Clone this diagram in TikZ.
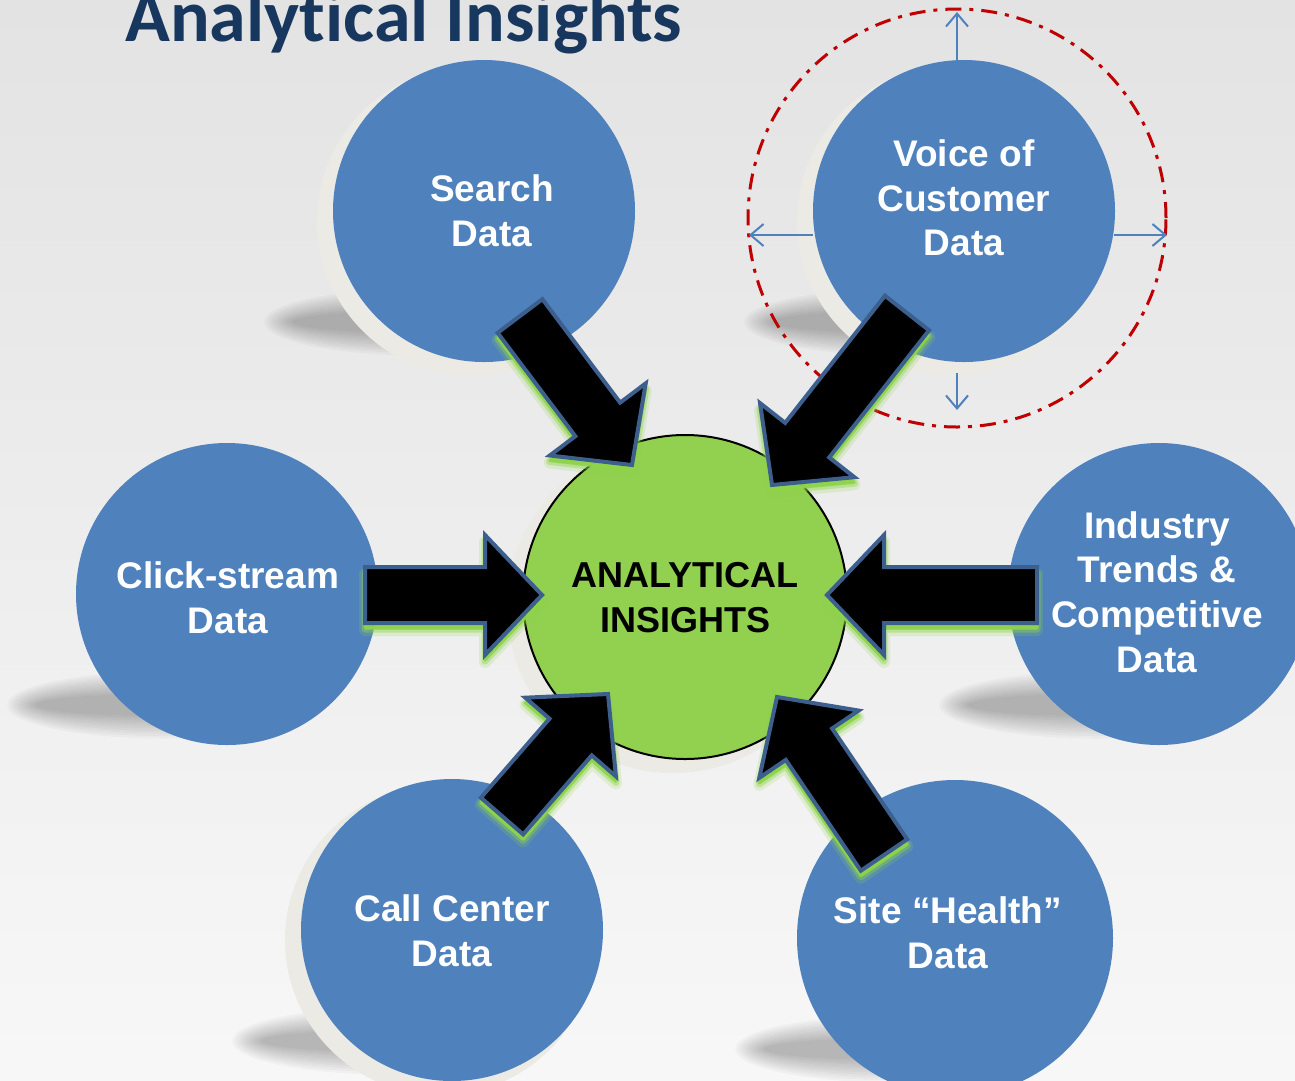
\documentclass[tikz,border=0pt]{standalone}
\usepackage{fontspec}
\setmainfont{Liberation Sans}
\newfontfamily\titlefont{Carlito}[Ligatures=NoCommon]
\usetikzlibrary{calc,arrows.meta}

\definecolor{blobblue}{HTML}{4F81BD}
\definecolor{hubgreen}{HTML}{92D050}
\definecolor{titleblue}{HTML}{17375E}
\definecolor{arrowedge}{HTML}{3D5F8E}
\definecolor{glowgreen}{HTML}{8ED44A}
\definecolor{rimgrey}{HTML}{EBEAE4}
\definecolor{ringred}{HTML}{C00000}

% block arrow from tail #2 to tip #3, moved down by #4, drawn with options #1
\newcommand\blockarrowpath[4]{%
  \path[#1] let \p1=($(#3)-(#2)$), \n1={veclen(\x1,\y1)}, \n2={atan2(\y1,\x1)} in
    [shift={($(#2)+(0,#4)$)}, rotate=\n2]
    (0pt,28pt) -- ({(\n1-57)*1pt},28pt) -- ({(\n1-57)*1pt},60pt) -- ({\n1*1pt},0pt)
    -- ({(\n1-57)*1pt},-60pt) -- ({(\n1-57)*1pt},-28pt) -- (0pt,-28pt) -- cycle;}
\newcommand\blockarrow[2]{%
  \blockarrowpath{fill=glowgreen, draw=glowgreen, line width=12pt, opacity=0.2, line join=round}{#1}{#2}{7}
  \blockarrowpath{fill=glowgreen, draw=glowgreen, line width=7pt, opacity=0.4, line join=round}{#1}{#2}{6}
  \blockarrowpath{fill=glowgreen, draw=glowgreen, line width=3pt, opacity=0.85, line join=round}{#1}{#2}{5}
  \blockarrowpath{fill=black, draw=arrowedge, line width=4pt, line join=miter}{#1}{#2}{0}}

\begin{document}
\begin{tikzpicture}[x=1pt,y=-1pt,
  blob/.style={circle, fill=blobblue, inner sep=0pt, minimum size=#1},
  blobtext/.style={text=white, font=\bfseries\fontsize{37}{44.6}\selectfont, align=center, inner sep=0pt},
  hub/.style={circle, fill=hubgreen, draw=black, line width=2pt, inner sep=0pt, minimum size=324pt},
  hubtext/.style={text=black, font=\bfseries\fontsize{36}{45}\selectfont, align=center, inner sep=0pt},
  thinarrow/.style={draw=blobblue, line width=2pt, -{Straight Barb[length=13pt, width=22pt, line width=2pt]}},
  ring/.style={draw=ringred, line width=3pt, dash pattern=on 16pt off 8pt on 4pt off 8pt}
]
\useasboundingbox (0,0) rectangle (1295,1080);
\clip (0,0) rectangle (1295,1080);

% backdrop
\fill[top color=black!11, middle color=black!5, bottom color=black!3] (0,0) rectangle (1295,1080);

% soft floor shadows behind the bubbles
\foreach \cx/\cy in {484/211, 964/211, 227/594, 1159/594, 452/930, 955/938}{
  \foreach \k in {0,...,9}
    \fill[black, opacity=0.026] ({\cx-63},{\cy+111}) ellipse [x radius={(128+3.2*\k)*1pt}, y radius={(11+2.5*\k)*1pt}];
}
% raised rims
\foreach \cx/\cy/\r in {484/211/151, 964/211/151, 452/930/151}
  \fill[rimgrey] ({\cx-12},{\cy+10}) circle ({(\r+4)*1pt});
\fill[rimgrey] (673,607) circle (166pt);

% title
\node[anchor=base west, inner sep=0pt, text=titleblue, font=\titlefont\bfseries\fontsize{74}{80}\selectfont] (title) at (125,41) {Analytical Insights};

% bubbles
\node[blob=302pt] (search) at (484,211) {};
\node[blob=302pt] (voice) at (964,211) {};
\node[blob=302pt] (click) at (227,594) {};
\node[blob=302pt] (industry) at (1159,594) {};
\node[blob=302pt] (call) at (452,930) {};
\node[blob=316pt] (site) at (955,938) {};
\node[hub] (hub) at (685,597) {};

% highlight ring around the voice-of-customer bubble
\draw[ring] (957,218) circle (209pt);
\coordinate (upEnd) at (957,12);
\coordinate (upStart) at (957,60);
\coordinate (downStart) at (957,373);
\coordinate (downEnd) at (957,410);
\coordinate (leftStart) at (813,235);
\coordinate (leftEnd) at (749,235);
\coordinate (rightStart) at (1114,235);
\coordinate (rightEnd) at (1167,235);
\draw[thinarrow] (upStart) -- (upEnd);
\draw[thinarrow] (downStart) -- (downEnd);
\draw[thinarrow] (leftStart) -- (leftEnd);
\draw[thinarrow] (rightStart) -- (rightEnd);

% labels
\node[blobtext] (searchtxt) at (492,211) {Search\\Data};
\node[blobtext] (voicetxt) at (964,198) {Voice of\\Customer\\Data};
\node[blobtext] (clicktxt) at (228,598) {Click-stream\\Data};
\node[blobtext] (industrytxt) at (1157,592) {Industry\\Trends \&\\Competitive\\Data};
\node[blobtext] (calltxt) at (452,931) {Call Center\\Data};
\node[blobtext] (sitetxt) at (948,933) {Site “Health”\\Data};
\node[hubtext] (hubtxt) at (685,598) {ANALYTICAL\\INSIGHTS};

% block arrows feeding the hub
\coordinate (sT) at (520,316);  \coordinate (sH) at (632,465);
\coordinate (vT) at (907,313);  \coordinate (vH) at (772,485);
\coordinate (kT) at (365,595);  \coordinate (kH) at (542,595);
\coordinate (iT) at (1037,595); \coordinate (iH) at (827,595);
\coordinate (cT) at (502,816);  \coordinate (cH) at (608,694);
\coordinate (hT) at (884,855);  \coordinate (hH) at (777,697);
\blockarrow{sT}{sH}
\blockarrow{vT}{vH}
\blockarrow{kT}{kH}
\blockarrow{iT}{iH}
\blockarrow{cT}{cH}
\blockarrow{hT}{hH}
\end{tikzpicture}
\end{document}
